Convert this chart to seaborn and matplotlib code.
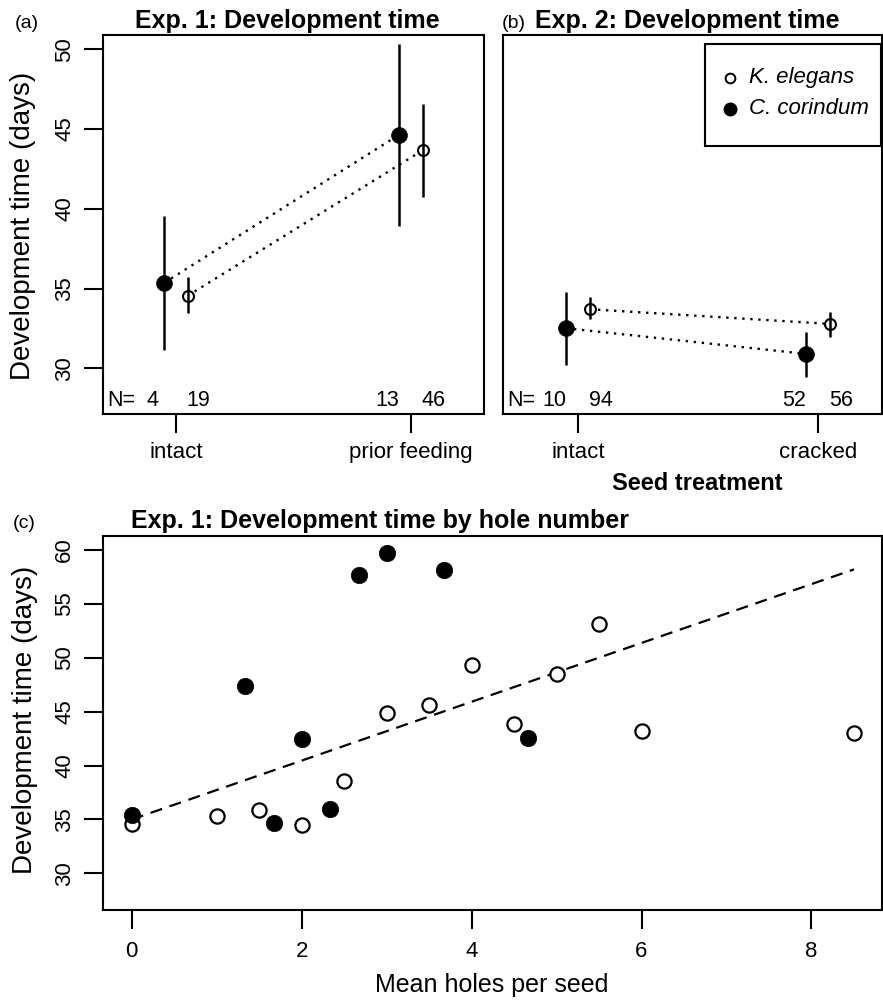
import numpy as np
import matplotlib
matplotlib.use("Agg")
import matplotlib.pyplot as plt
from matplotlib.patches import Rectangle
import seaborn as sns

# Exp. 1 (panel a): means and error bar ends, per seed treatment
treat_a = ['intact', 'prior feeding']
cc_a_mean = [35.36, 44.65]
cc_a_lo = [31.13, 38.95]
cc_a_hi = [39.56, 50.35]
ke_a_mean = [34.55, 43.67]
ke_a_lo = [33.44, 40.77]
ke_a_hi = [35.74, 46.60]
cc_a_n = [4, 13]
ke_a_n = [19, 46]

# Exp. 2 (panel b)
treat_b = ['intact', 'cracked']
cc_b_mean = [32.51, 30.90]
cc_b_lo = [30.21, 29.47]
cc_b_hi = [34.80, 32.30]
ke_b_mean = [33.70, 32.78]
ke_b_lo = [33.07, 31.94]
ke_b_hi = [34.45, 33.51]
cc_b_n = [10, 52]
ke_b_n = [94, 56]

# Exp. 1 by hole number (panel c)
ke_holes = [0, 1, 1.5, 2, 2.5, 3, 3.5, 4, 4.5, 5, 5.5, 6, 8.5]
ke_days = [34.6, 35.3, 35.9, 34.5, 38.6, 44.85, 45.65, 49.3, 43.9, 48.5, 53.1, 43.2, 43.0]
cc_holes = [0, 1.33, 1.67, 2, 2.33, 2.67, 3, 3.67, 4.67]
cc_days = [35.4, 47.4, 34.7, 42.5, 36.0, 57.7, 59.7, 58.1, 42.6]
trend_holes = [0, 8.5]
trend_days = [35.0, 58.2]

sns.set_theme(style='white')
plt.rcParams['font.family'] = ['Liberation Sans', 'DejaVu Sans']
plt.rcParams['axes.edgecolor'] = 'black'
plt.rcParams['axes.linewidth'] = 1.5
plt.rcParams['text.color'] = 'black'
plt.rcParams['axes.labelcolor'] = 'black'
plt.rcParams['xtick.color'] = 'black'
plt.rcParams['ytick.color'] = 'black'

W, H = 883, 1001
fig = plt.figure(figsize=(W / 100, H / 100), dpi=100)


def rect(l, t, r, b):
    return [l / W, 1 - b / H, (r - l) / W, (b - t) / H]


def style_axes(ax):
    for s in ax.spines.values():
        s.set_color('black')
        s.set_linewidth(1.5)
    ax.tick_params(direction='out', length=14, width=1.5, pad=6,
                   labelsize=16, colors='black', bottom=True, left=True)
    ax.set_xlabel('')
    ax.set_ylabel('')


def means_panel(ax, treat, cc_m, cc_lo, cc_hi, ke_m, ke_lo, ke_hi, cc_n, ke_n, xlim):
    pos = np.arange(1, len(treat) + 1)
    x_cc = pos - 0.05
    x_ke = pos + 0.05
    dot = (0, (1, 2.4))
    sns.lineplot(x=x_cc, y=cc_m, ax=ax, color='black', lw=1.7, linestyle=dot, zorder=1)
    sns.lineplot(x=x_ke, y=ke_m, ax=ax, color='black', lw=1.7, linestyle=dot, zorder=1)
    sns.scatterplot(x=x_ke, y=ke_m, ax=ax, s=62, facecolor='white', edgecolor='black',
                    linewidth=1.5, zorder=2)
    ax.vlines(x_cc, cc_lo, cc_hi, color='black', lw=1.8, zorder=3)
    ax.vlines(x_ke, ke_lo, ke_hi, color='black', lw=1.8, zorder=3)
    sns.scatterplot(x=x_cc, y=cc_m, ax=ax, s=130, color='black', edgecolor='black',
                    linewidth=0.5, zorder=4)
    for xi, n in zip(pos - 0.1, cc_n):
        ax.text(xi, 28.0, str(n), ha='center', va='center', fontsize=15.5)
    for xi, n in zip(pos + 0.095, ke_n):
        ax.text(xi, 28.0, str(n), ha='center', va='center', fontsize=15.5)
    ax.text(0.012, 28.0, 'N=', transform=ax.get_yaxis_transform(), ha='left',
            va='center', fontsize=15.5)
    ax.set_xlim(*xlim)
    ax.set_ylim(27.13, 50.9)
    ax.set_xticks(pos)
    ax.set_xticklabels(treat)
    style_axes(ax)


# panel (a)
ax_a = fig.add_axes(rect(103, 35, 484, 414))
means_panel(ax_a, treat_a, cc_a_mean, cc_a_lo, cc_a_hi, ke_a_mean, ke_a_lo, ke_a_hi,
            cc_a_n, ke_a_n, (0.689, 2.311))
ax_a.set_yticks([30, 35, 40, 45, 50])
for lab in ax_a.get_yticklabels():
    lab.set_rotation(90)
    lab.set_va('center')

# panel (b)
ax_b = fig.add_axes(rect(503, 35, 882, 414))
means_panel(ax_b, treat_b, cc_b_mean, cc_b_lo, cc_b_hi, ke_b_mean, ke_b_lo, ke_b_hi,
            cc_b_n, ke_b_n, (0.6875, 2.267))
ax_b.set_yticks([])

# legend box drawn by hand, R style
ax_b.add_patch(Rectangle((0.532, 0.707), 0.465, 0.27, transform=ax_b.transAxes,
                         facecolor='white', edgecolor='black', lw=1.5, zorder=5))
ax_b.plot([0.598], [0.887], transform=ax_b.transAxes, marker='o', ms=7,
          mfc='white', mec='black', mew=1.4, zorder=6)
ax_b.plot([0.598], [0.805], transform=ax_b.transAxes, marker='o', ms=9,
          color='black', zorder=6)
ax_b.text(0.648, 0.887, 'K. elegans', transform=ax_b.transAxes, style='italic',
          fontsize=16, va='center', ha='left', zorder=6)
ax_b.text(0.648, 0.805, 'C. corindum', transform=ax_b.transAxes, style='italic',
          fontsize=16, va='center', ha='left', zorder=6)

# panel (c)
ax_c = fig.add_axes(rect(103, 536, 882, 910))
sns.lineplot(x=trend_holes, y=trend_days, ax=ax_c, color='black', lw=1.6,
             linestyle=(0, (5.5, 3.5)), zorder=1)
sns.scatterplot(x=ke_holes, y=ke_days, ax=ax_c, s=105, facecolor='white',
                edgecolor='black', linewidth=1.6, zorder=2)
sns.scatterplot(x=cc_holes, y=cc_days, ax=ax_c, s=140, color='black',
                edgecolor='black', linewidth=0.5, zorder=3)
ax_c.set_xlim(-0.337, 8.83)
ax_c.set_ylim(26.6, 61.3)
ax_c.set_xticks([0, 2, 4, 6, 8])
ax_c.set_yticks([30, 35, 40, 45, 50, 55, 60])
style_axes(ax_c)
ax_c.tick_params(axis='x', pad=8)
for lab in ax_c.get_yticklabels():
    lab.set_rotation(90)
    lab.set_va('center')

# titles and labels
fig.text(15 / W, 1 - 28 / H, '(a)', fontsize=14, va='baseline', ha='left')
fig.text(287 / W, 1 - 28 / H, 'Exp. 1: Development time', fontsize=18,
         fontweight='bold', va='baseline', ha='center')
fig.text(502 / W, 1 - 28 / H, '(b)', fontsize=14, va='baseline', ha='left')
fig.text(535 / W, 1 - 28 / H, 'Exp. 2: Development time', fontsize=18,
         fontweight='bold', va='baseline', ha='left')
fig.text(697 / W, 1 - 483 / H, 'Seed treatment', fontsize=17, fontweight='bold',
         va='center', ha='center')
fig.text(23 / W, 1 - 226 / H, 'Development time (days)', fontsize=20,
         rotation=90, va='center', ha='center')

fig.text(13 / W, 1 - 528 / H, '(c)', fontsize=14, va='baseline', ha='left')
fig.text(131 / W, 1 - 528 / H, 'Exp. 1: Development time by hole number',
         fontsize=18, fontweight='bold', va='baseline', ha='left')
fig.text(25 / W, 1 - 720 / H, 'Development time (days)', fontsize=20,
         rotation=90, va='center', ha='center')
fig.text(492 / W, 1 - 985 / H, 'Mean holes per seed', fontsize=18,
         va='center', ha='center')

fig.savefig('out.png', dpi=100)
